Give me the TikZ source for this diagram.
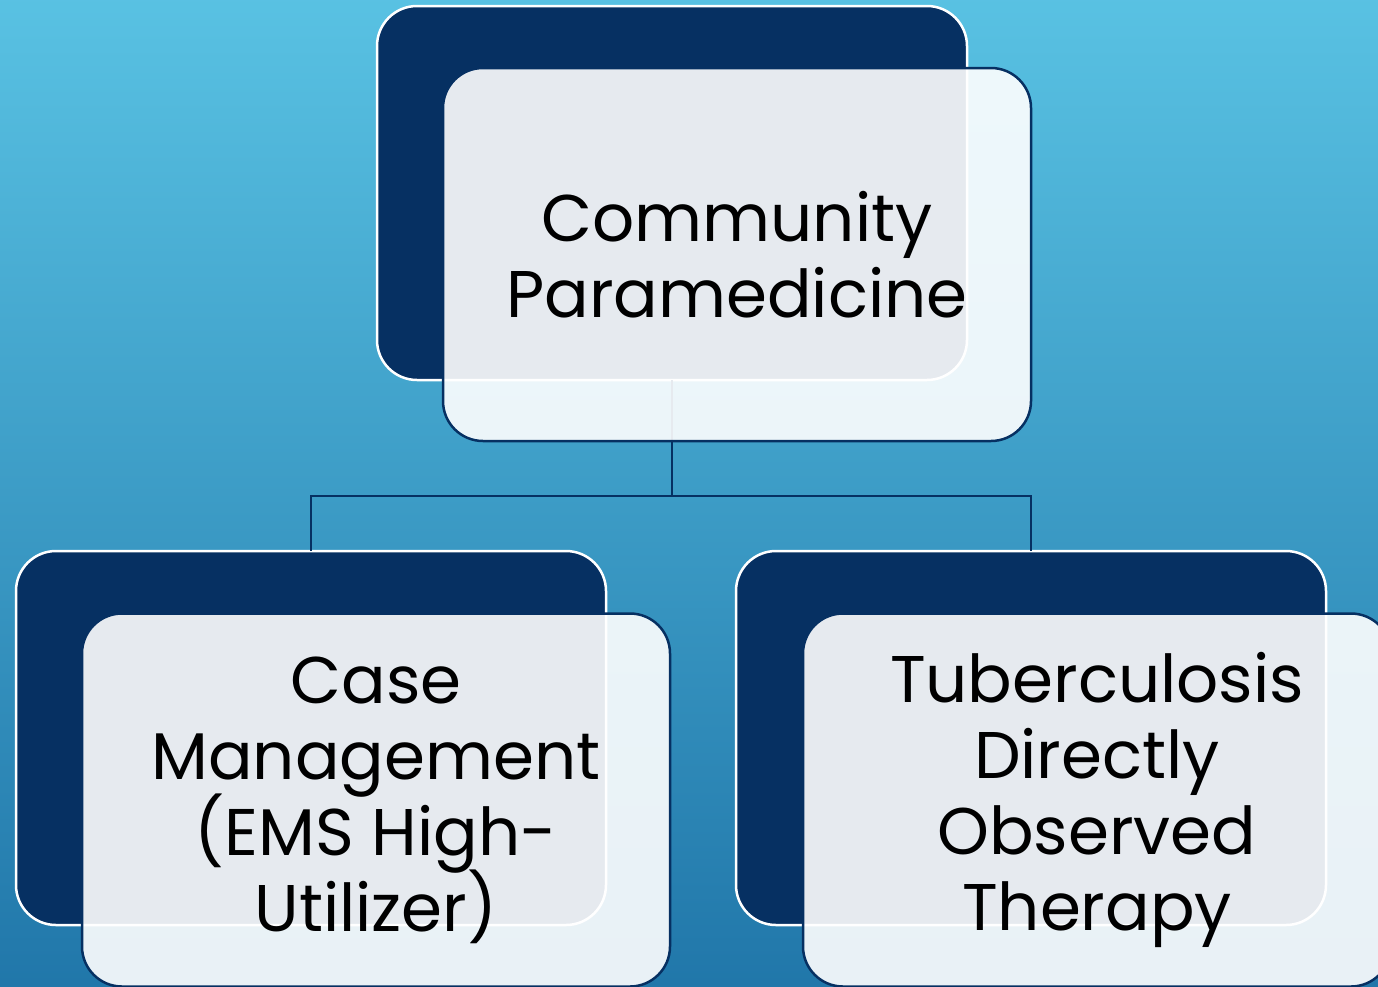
\documentclass[tikz,border=0pt]{standalone}
\usepackage{fontspec}
\setmainfont{Poppins}
\usetikzlibrary{positioning,calc}

\definecolor{navy}{HTML}{063062}
\definecolor{skytop}{HTML}{5CC6E6}
\definecolor{skybot}{HTML}{1D72A6}

\newcommand{\boxfont}{\fontsize{66}{76}\selectfont\lineskiplimit=-100pt\relax}

\tikzset{
  backbox/.style={draw=white, line width=2.5pt, fill=navy, rounded corners=40pt,
    minimum width=590pt, minimum height=374pt, inner sep=0pt, outer sep=0pt},
  frontbox/.style={draw=navy, line width=2.5pt, fill=white, fill opacity=0.9,
    text opacity=1, rounded corners=40pt, minimum width=588pt, minimum height=373pt,
    inner sep=0pt, outer sep=0pt, align=center, font=\boxfont},
  link/.style={draw=navy, line width=2.5pt}
}

\begin{document}
\begin{tikzpicture}[x=1pt,y=-1pt]
			\useasboundingbox (0,0) rectangle (1378,986);
			\clip (0,0) rectangle (1378,986);
			\shade[shading angle=-20, top color=skytop, bottom color=skybot] (-60,-60) rectangle (1440,1050);
			
			% back boxes
			\node[backbox] (cpback) at (672, 193) {};
			\node[backbox] (cmback) at (311, 738) {};
			\node[backbox] (tbback) at (1031, 738) {};
			
			% connectors
			\coordinate (fork) at ([yshift=-116pt]cpback.south);
			\draw[link] (cpback.south) -- (fork) -| (cmback.north);
			\draw[link] (fork) -| (tbback.north);
			
			% front boxes
			\node[frontbox] (cpfront) at (737, 254.5) {Community\\Paramedicine};
			\node[frontbox] (cmfront) at (376, 800) {Case\\Management\\(EMS High-\\Utilizer)};
			\node[frontbox] (tbfront) at (1097, 800) {Tuberculosis\\Directly\\Observed\\Therapy};
			
			\end{tikzpicture}
\end{document}
